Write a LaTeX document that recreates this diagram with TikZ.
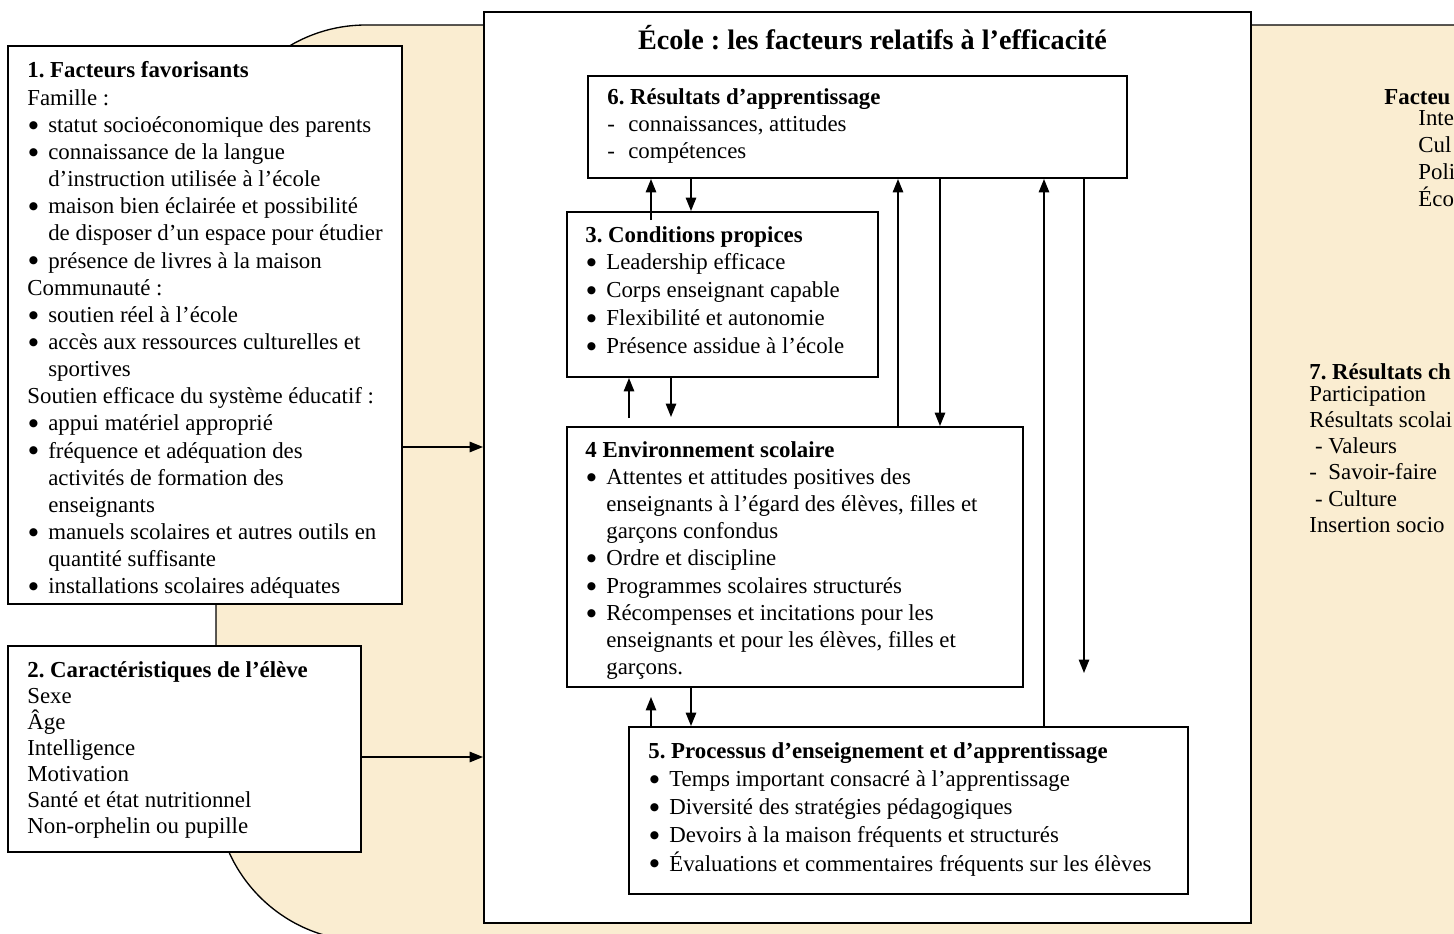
\documentclass[tikz,border=0pt]{standalone}
\usepackage{fontspec}
\setmainfont{Liberation Serif}
\newfontfamily\dotfont{DejaVu Sans}
\usetikzlibrary{arrows.meta,fit}
\definecolor{parch}{RGB}{250,237,209}
\frenchspacing
\newlength\bw \setlength\bw{11pt}
\newcommand\bdot{\raisebox{2.2pt}{\dotfont\fontsize{5.6pt}{7pt}\selectfont ●}}
\newcommand\lyn[1]{\hbox{#1}}
\newcommand\bul[1]{\hbox{\makebox[\bw][l]{\hspace{0.8pt}\bdot}#1}}
\newcommand\dsh[1]{\hbox{\makebox[\bw][l]{-}#1}}
\newcommand\cnt[1]{\hbox{\hspace{\bw}#1}}
\newcommand\stk[2]{\vtop{\baselineskip=#1\lineskiplimit=-\maxdimen\lineskip=0pt\relax #2}}
\tikzset{
  box/.style={draw, line width=1pt, fill=white, inner sep=0pt},
  txt/.style={inner sep=0pt, anchor=base west, font=\fontsize{12pt}{14pt}\selectfont},
  arr/.style={draw, line width=0.9pt, -{Triangle[length=7pt,width=5.4pt]}},
  rim/.style={draw, line width=0.7pt, fill=parch, rounded corners=78.8pt}
}
\begin{document}
\begin{tikzpicture}[x=0.5252pt,y=-0.5252pt]
\useasboundingbox (0,0) rectangle (1454,934);
\fill[white] (0,0) rectangle (1454,934);
\clip (0,0) rectangle (1454,934);
% parchment background
\path[rim] (216,500) -- (216,25) -- (1700,25) -- (1700,941) -- (216,941) -- cycle;
% right-hand texts (as far as the picture shows them)
\node[txt, font=\fontsize{12pt}{14pt}\selectfont\bfseries] (fc) at (1384,105) {Facteu};
\node[txt] (fcl) at (1418,125) {\stk{14.2pt}{\lyn{Inte}\lyn{Cul}\lyn{Poli}\lyn{Éco}}};
\node[txt, font=\fontsize{12pt}{14pt}\selectfont\bfseries] (r7) at (1309,379) {7. Résultats ch};
\node[txt] (r7l) at (1309,401) {\stk{13.8pt}{\lyn{Participation}\lyn{Résultats scolai}\lyn{\ - Valeurs}\lyn{-\ \ Savoir-faire}\lyn{\ - Culture}\lyn{Insertion socio}}};
% left boxes
\node[box, fit={(8,46) (402,604)}] (b1) {};
\node[box, fit={(8,646) (361,852)}] (b2) {};
\begin{scope}
\clip (8,46) rectangle (402,597);
\node[txt] (t1) at (27,78) {\stk{14.26pt}{%
\lyn{\textbf{1. Facteurs favorisants}}
\lyn{Famille :}
\bul{statut socioéconomique des parents}
\bul{connaissance de la langue}
\cnt{d’instruction utilisée à l’école}
\bul{maison bien éclairée et possibilité}
\cnt{de disposer d’un espace pour étudier}
\bul{présence de livres à la maison}
\lyn{Communauté :}
\bul{soutien réel à l’école}
\bul{accès aux ressources culturelles et}
\cnt{sportives}
\lyn{Soutien efficace du système éducatif :}
\bul{appui matériel approprié}
\bul{fréquence et adéquation des}
\cnt{activités de formation des}
\cnt{enseignants}
\bul{manuels scolaires et autres outils en}
\cnt{quantité suffisante}
\bul{installations scolaires adéquates}}};
\end{scope}
\node[txt] (t2) at (27,677) {\stk{13.74pt}{%
\lyn{\textbf{2. Caractéristiques de l’élève}}
\lyn{Sexe}
\lyn{Âge}
\lyn{Intelligence}
\lyn{Motivation}
\lyn{Santé et état nutritionnel}
\lyn{Non-orphelin ou pupille}}};
% central frame
\node[box, fit={(484,12) (1251,923)}] (ctr) {};
\node[inner sep=0pt, anchor=base, font=\fontsize{14.8pt}{17pt}\selectfont\bfseries] (title) at (872.5,50) {École : les facteurs relatifs à l’efficacité};
\node[box, fit={(588,76) (1127,178)}] (b6) {};
\node[box, fit={(567,212) (878,377)}] (b3) {};
\node[box, fit={(567,427) (1023,687)}] (b4) {};
\node[box, fit={(629,727) (1188,894)}] (b5) {};
\node[txt] (t6) at (607,105) {\stk{13.92pt}{%
\lyn{\textbf{6. Résultats d’apprentissage}}
\dsh{connaissances, attitudes}
\dsh{compétences}}};
\node[txt] (t3) at (585,242) {\stk{14.7pt}{%
\lyn{\textbf{3. Conditions propices}}
\bul{Leadership efficace}
\bul{Corps enseignant capable}
\bul{Flexibilité et autonomie}
\bul{Présence assidue à l’école}}};
\node[txt] (t4) at (585,457) {\stk{14.31pt}{%
\lyn{\textbf{4 Environnement scolaire}}
\bul{Attentes et attitudes positives des}
\cnt{enseignants à l’égard des élèves, filles et}
\cnt{garçons confondus}
\bul{Ordre et discipline}
\bul{Programmes scolaires structurés}
\bul{Récompenses et incitations pour les}
\cnt{enseignants et pour les élèves, filles et}
\cnt{garçons.}}};
\node[txt] (t5) at (648,758) {\stk{14.84pt}{%
\lyn{\textbf{5. Processus d’enseignement et d’apprentissage}}
\bul{Temps important consacré à l’apprentissage}
\bul{Diversité des stratégies pédagogiques}
\bul{Devoirs à la maison fréquents et structurés}
\bul{Évaluations et commentaires fréquents sur les élèves}}};
% connector positions
\coordinate (k1) at (0,447);
\coordinate (k2) at (0,757);
\coordinate (u1) at (651,220);
\coordinate (d1) at (691,0);
\coordinate (u2) at (629,418);
\coordinate (d2) at (671,417);
\coordinate (u3) at (651,697);
\coordinate (d3) at (691,0);
\coordinate (u4) at (898,0);
\coordinate (d4) at (940,0);
\coordinate (u5) at (1044,0);
\coordinate (d5) at (1084,673);
% connectors
\draw[arr] (b1.east |- k1) -- (ctr.west |- k1);
\draw[arr] (b2.east |- k2) -- (ctr.west |- k2);
\draw[arr] (u1) -- (b6.south -| u1);
\draw[arr] (b6.south -| d1) -- (b3.north -| d1);
\draw[arr] (u2) -- (b3.south -| u2);
\draw[arr] (b3.south -| d2) -- (d2);
\draw[arr] (b5.north -| u3) -- (u3);
\draw[arr] (b4.south -| d3) -- (b5.north -| d3);
\draw[arr] (b4.north -| u4) -- (b6.south -| u4);
\draw[arr] (b6.south -| d4) -- (b4.north -| d4);
\draw[arr] (b5.north -| u5) -- (b6.south -| u5);
\draw[arr] (b6.south -| d5) -- (d5);
\end{tikzpicture}
\end{document}
